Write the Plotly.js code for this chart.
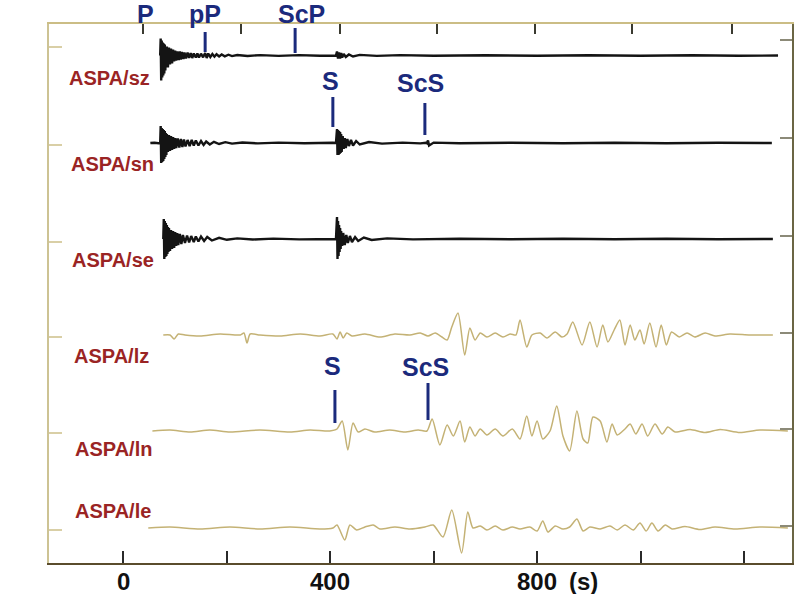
<!DOCTYPE html>
<html>
<head>
<meta charset="utf-8">
<script src="https://cdn.plot.ly/plotly-3.0.1.min.js"></script>
<style>html,body{margin:0;padding:0;background:#fff;}#chart{width:800px;height:594px;}</style>
</head>
<body>
<div id="chart"></div>
<script>
// ---- Data: time (s) and relative amplitude read from the record ----
const stationLabels = ['ASPA/sz', 'ASPA/sn', 'ASPA/se', 'ASPA/lz', 'ASPA/ln', 'ASPA/le'];

const timeSZ = [71,72,73,74,75,76,77,78,79,80,81,82,83,84,86,88,90,92,94,96,98,100,102,104,107,109,111,113,116,118,121,124,127,130,133,136,140,143,146,150,154,158,161,164,168,172,176,180,185,190,196,203,210,220,240,265,300,340,380,411,413,415,417,419,421,423,426,430,436,444,457,490,535,600,700,800,900,1000,1100,1190,1266];
const ampSZ  = [0,17,-25,15,-22,13,-20,12,-18,11,-15,9,-12,9,-12,8,-9,7,-8,6,-6,5,-5,4,-4.5,4,-4,3.5,-3.5,3,-3,3,-2.5,2.5,-2.5,2,-2,2,-2,1.8,-1.8,2.5,-2.5,2,-1.5,1.5,-1.2,1.2,-1,1,-0.8,0.8,-0.6,0.5,-0.5,0.4,-0.4,0.4,-0.3,0,4,-3,3,-3,2.5,-2,1.5,-1.5,1,-1,0.6,-0.4,0.4,-0.3,0.3,-0.3,0.3,-0.3,0.3,-0.3,0];

const timeSN = [52,60,68,71,72,73,74,75,76,77,78,79,80,81,82,83,84,86,88,90,92,94,96,98,100,102,105,108,111,114,117,120,124,128,132,136,140,145,150,155,160,167,175,185,197,210,230,260,300,350,405,411,413,414,415,416,417,418,419,420,421,422,424,426,428,430,433,436,440,444,450,457,475,500,540,574,585,587,589,591,600,650,750,850,950,1050,1150,1254];
const ampSN  = [0,0.3,-0.3,0,17,-20,15,-19,14,-18,13,-16,12,-14,10,-12,9,-9,8,-8,7,-7,6,-6,5,-5,4.5,-4.5,4,-4,3.5,-3.5,3,-3,3,-2.5,2.5,-2.5,2,-2,1.5,-1.5,1.2,-1,0.8,-0.6,0.5,-0.4,0.4,-0.3,0.3,0,14,-12,13,-12,12,-11,11,-10,9,-9,7,-6,5,-5,4,-3,3,-2.5,2,-1.5,1,-0.6,0.4,-0.4,0.3,-0.3,2.5,-2.5,0.4,-0.3,0.3,-0.3,0.3,-0.3,0.3,0];

const timeSE = [77,78,79,80,81,82,83,84,85,86,87,88,90,92,94,96,98,100,102,104,106,109,112,115,119,123,127,131,136,140,145,150,156,162,171,185,200,220,250,290,340,390,411,413,414,415,416,417,418,419,420,421,423,425,428,431,434,438,442,448,454,465,480,510,560,650,750,850,950,1050,1150,1256];
const ampSE  = [0,20,-20,18,-18,16,-17,14,-15,12,-13,11,-12,9,-10,8,-9,7,-7,6,-6,5,-5,4,-4,3.5,-3.5,3,-3,2.5,-2.5,2.5,-2,2,-1.5,1.2,-0.8,0.6,-0.5,0.4,-0.4,0.3,0,22,-20,18,-17,14,-13,11,-10,8,-7,6,-6,4,-4,3,-3,2,-2,1.5,-1,0.6,-0.4,0.3,-0.3,0.3,-0.3,0.3,-0.3,0];

const timeLZ = [77,90,98,106,119,148,187,226,233,239,245,264,303,342,380,405,413,419,425,432,442,467,496,525,554,574,589,603,616,626,635,647,660,670,680,690,703,719,734,748,759,767,780,790,806,819,835,848,858,869,887,902,916,927,937,949,960,970,980,989,999,1007,1018,1030,1040,1050,1060,1075,1090,1105,1125,1144,1173,1212,1256];
const ampLZ  = [0,0,-4,1,0,-1,1,0,2,-8,1,0,-1,1,-1,1,-4,3,-3,2,-1,1,-2,1,0,2,-1,2,-2,-5,8,22,-20,7,-5,2,-2,2,-2,1,0,15,-12,0,2,-3,3,-2,1,13,-10,13,-12,10,-7,5,15,-10,10,-5,5,-9,12,-12,10,-10,3,-2,2,-2,2,-1,1,0,0];

const timeLN = [56,90,129,167,206,264,322,361,399,413,423,434,444,454,467,486,515,544,570,587,597,612,626,638,651,660,670,680,690,703,719,734,752,767,780,790,800,811,825,838,850,863,877,889,898,908,922,935,945,955,970,980,991,1003,1014,1028,1042,1053,1067,1096,1125,1154,1192,1231,1285];
const ampLN  = [0,1,-1,1,-1,1,-1,1,0,2,10,-19,8,-1,2,-1,1,-1,1,0,12,-14,6,-5,10,-11,4,-5,2,-4,2,-5,2,-8,15,-5,10,-8,0,25,-5,-20,20,-8,-12,14,10,-11,7,-4,2,7,-3,7,-5,7,-3,4,-1,1.5,-1.5,1.5,-1.5,1,0];

const timeLE = [48,90,148,206,264,322,380,405,413,428,438,451,467,483,496,525,554,583,599,618,635,654,666,676,690,703,719,734,752,767,786,800,811,821,835,850,863,877,889,902,922,941,955,970,986,999,1011,1022,1034,1048,1061,1086,1115,1144,1183,1231,1285];
const ampLE  = [0,1,-1,1,-1,1,-1,0,3,-12,3,-2,1,3,-1,1,-1,1,3,-9,18,-25,16,0,2,-2,2,-2,1,-1,1,-3,7,-4,2,-1,1,9,-3,1,-1,2,-2,3,-2,5,-3,5,-3,3,-1,1.5,-1.5,1,-1,1,0];

// phase picks: name, arrival time (s)
const phaseNames = ['pP', 'ScP', 'S', 'ScS', 'S', 'ScS'];
const phaseTimes = [158, 332, 405, 583, 409, 589];
const firstArrivalName = 'P';
const firstArrivalTime = 42;

const xTickVals = [0, 200, 400, 600, 800, 1000, 1200];
const xTickText = ['0', '', '400', '', '800', '', ''];
const xUnitText = '(s)';

// ---- layout constants (styling / placement) ----
const baselines = [507.5, 420, 324, 228, 132, 35];
const labelPos = [[-109, 485], [-105, 399], [-103, 303], [-99, 207], [-97, 114], [-97, 52]];
const barY = [[531, 511], [535, 510], [466, 436], [460, 428], [173, 140], [180, 143]];
const phaseLabelY = [null, null, 482, 480, 197, 196];
const phaseLabelDx = [0, 6, -2, -4, -2, -3];

const FONT = 'Liberation Sans, Arial, sans-serif';
const NAVY = '#1b2a7c';
const RED = '#9a2424';

const series = [
  [timeSZ, ampSZ], [timeSN, ampSN], [timeSE, ampSE],
  [timeLZ, ampLZ], [timeLN, ampLN], [timeLE, ampLE]
];

const traces = series.map((s, i) => {
  const longPeriod = i >= 3;
  return {
    type: 'scatter', mode: 'lines',
    x: s[0],
    y: s[1].map(v => v + baselines[i]),
    line: longPeriod
      ? {color: '#c4b275', width: 1.5, shape: 'spline', smoothing: 0.7}
      : {color: '#141414', width: 2.4},
    hoverinfo: 'skip', showlegend: false,
    xaxis: i === 5 ? 'x2' : 'x', yaxis: i === 5 ? 'y2' : 'y'
  };
});

const annotations = [];
stationLabels.forEach((t, i) => {
  annotations.push({
    text: t, x: labelPos[i][0], y: labelPos[i][1], xref: 'x', yref: 'y',
    xanchor: 'left', yanchor: 'middle', showarrow: false,
    font: {family: FONT, size: 20, color: RED, weight: 'bold'}
  });
});

const shapes = [];
phaseNames.forEach((n, i) => {
  shapes.push({
    type: 'line', xref: 'x', yref: 'y',
    x0: phaseTimes[i], x1: phaseTimes[i], y0: barY[i][0], y1: barY[i][1],
    line: {color: NAVY, width: 3}
  });
  const lab = {
    text: n, x: phaseTimes[i], xref: 'x', xshift: phaseLabelDx[i], showarrow: false,
    xanchor: 'center', yanchor: 'middle',
    font: {family: FONT, size: 25, color: NAVY, weight: 'bold'}
  };
  if (phaseLabelY[i] === null) { lab.yref = 'paper'; lab.y = 1.0186; }
  else { lab.yref = 'y'; lab.y = phaseLabelY[i]; }
  annotations.push(lab);
});
annotations.push({
  text: firstArrivalName, x: firstArrivalTime, xref: 'x', y: 1.0186, yref: 'paper',
  showarrow: false, xanchor: 'center', yanchor: 'middle',
  font: {family: FONT, size: 25, color: NAVY, weight: 'bold'}
});

// x tick labels (placed as text under the axis so they are not clipped)
xTickVals.forEach((v, i) => {
  if (!xTickText[i]) return;
  annotations.push({
    text: xTickText[i], x: v, xref: 'x', y: -0.034, yref: 'paper',
    showarrow: false, xanchor: 'center', yanchor: 'middle',
    font: {family: FONT, size: 24, color: '#111', weight: 'bold'}
  });
});
annotations.push({
  text: xUnitText, x: 858, xref: 'x', y: -0.034, yref: 'paper',
  showarrow: false, xanchor: 'left', yanchor: 'middle',
  font: {family: FONT, size: 24, color: '#111', weight: 'bold'}
});

const XR = [-144, 1293];
const YR = [0, 539];

const layout = {
  width: 800, height: 594,
  margin: {l: 49, r: 8, t: 24, b: 31, pad: 0},
  paper_bgcolor: '#ffffff', plot_bgcolor: '#ffffff',
  showlegend: false,
  xaxis: {
    range: XR, showgrid: false, zeroline: false, showline: true,
    linecolor: '#5a4c2c', linewidth: 2,
    ticks: 'inside', ticklen: 12, tickwidth: 2, tickcolor: '#2a2a2a',
    tickvals: xTickVals, showticklabels: false,
    fixedrange: true
  },
  yaxis: {
    range: YR, showgrid: false, zeroline: false, showline: true,
    linecolor: '#cdc394', linewidth: 2,
    ticks: 'inside', ticklen: 13, tickwidth: 2, tickcolor: '#d9cfa6',
    tickvals: [516, 418, 321, 226, 130, 33], showticklabels: false,
    fixedrange: true
  },
  xaxis2: {
    range: XR, overlaying: 'x', side: 'top', anchor: 'y2',
    showgrid: false, zeroline: false, showline: true,
    linecolor: '#cbbd85', linewidth: 2,
    ticks: 'inside', ticklen: 10, tickwidth: 2, tickcolor: '#3a3a30',
    tickvals: [38, 228, 419, 606, 796, 984, 1177], showticklabels: false,
    fixedrange: true
  },
  yaxis2: {
    range: YR, overlaying: 'y', side: 'right', anchor: 'x2',
    showgrid: false, zeroline: false, showline: true,
    linecolor: '#6b6644', linewidth: 2,
    ticks: 'inside', ticklen: 12, tickwidth: 2, tickcolor: '#8c8a78',
    tickvals: [523, 425, 327, 230, 134, 37], showticklabels: false,
    fixedrange: true
  },
  annotations: annotations,
  shapes: shapes
};

Plotly.newPlot('chart', traces, layout, {displayModeBar: false, staticPlot: true});
</script>
</body>
</html>
